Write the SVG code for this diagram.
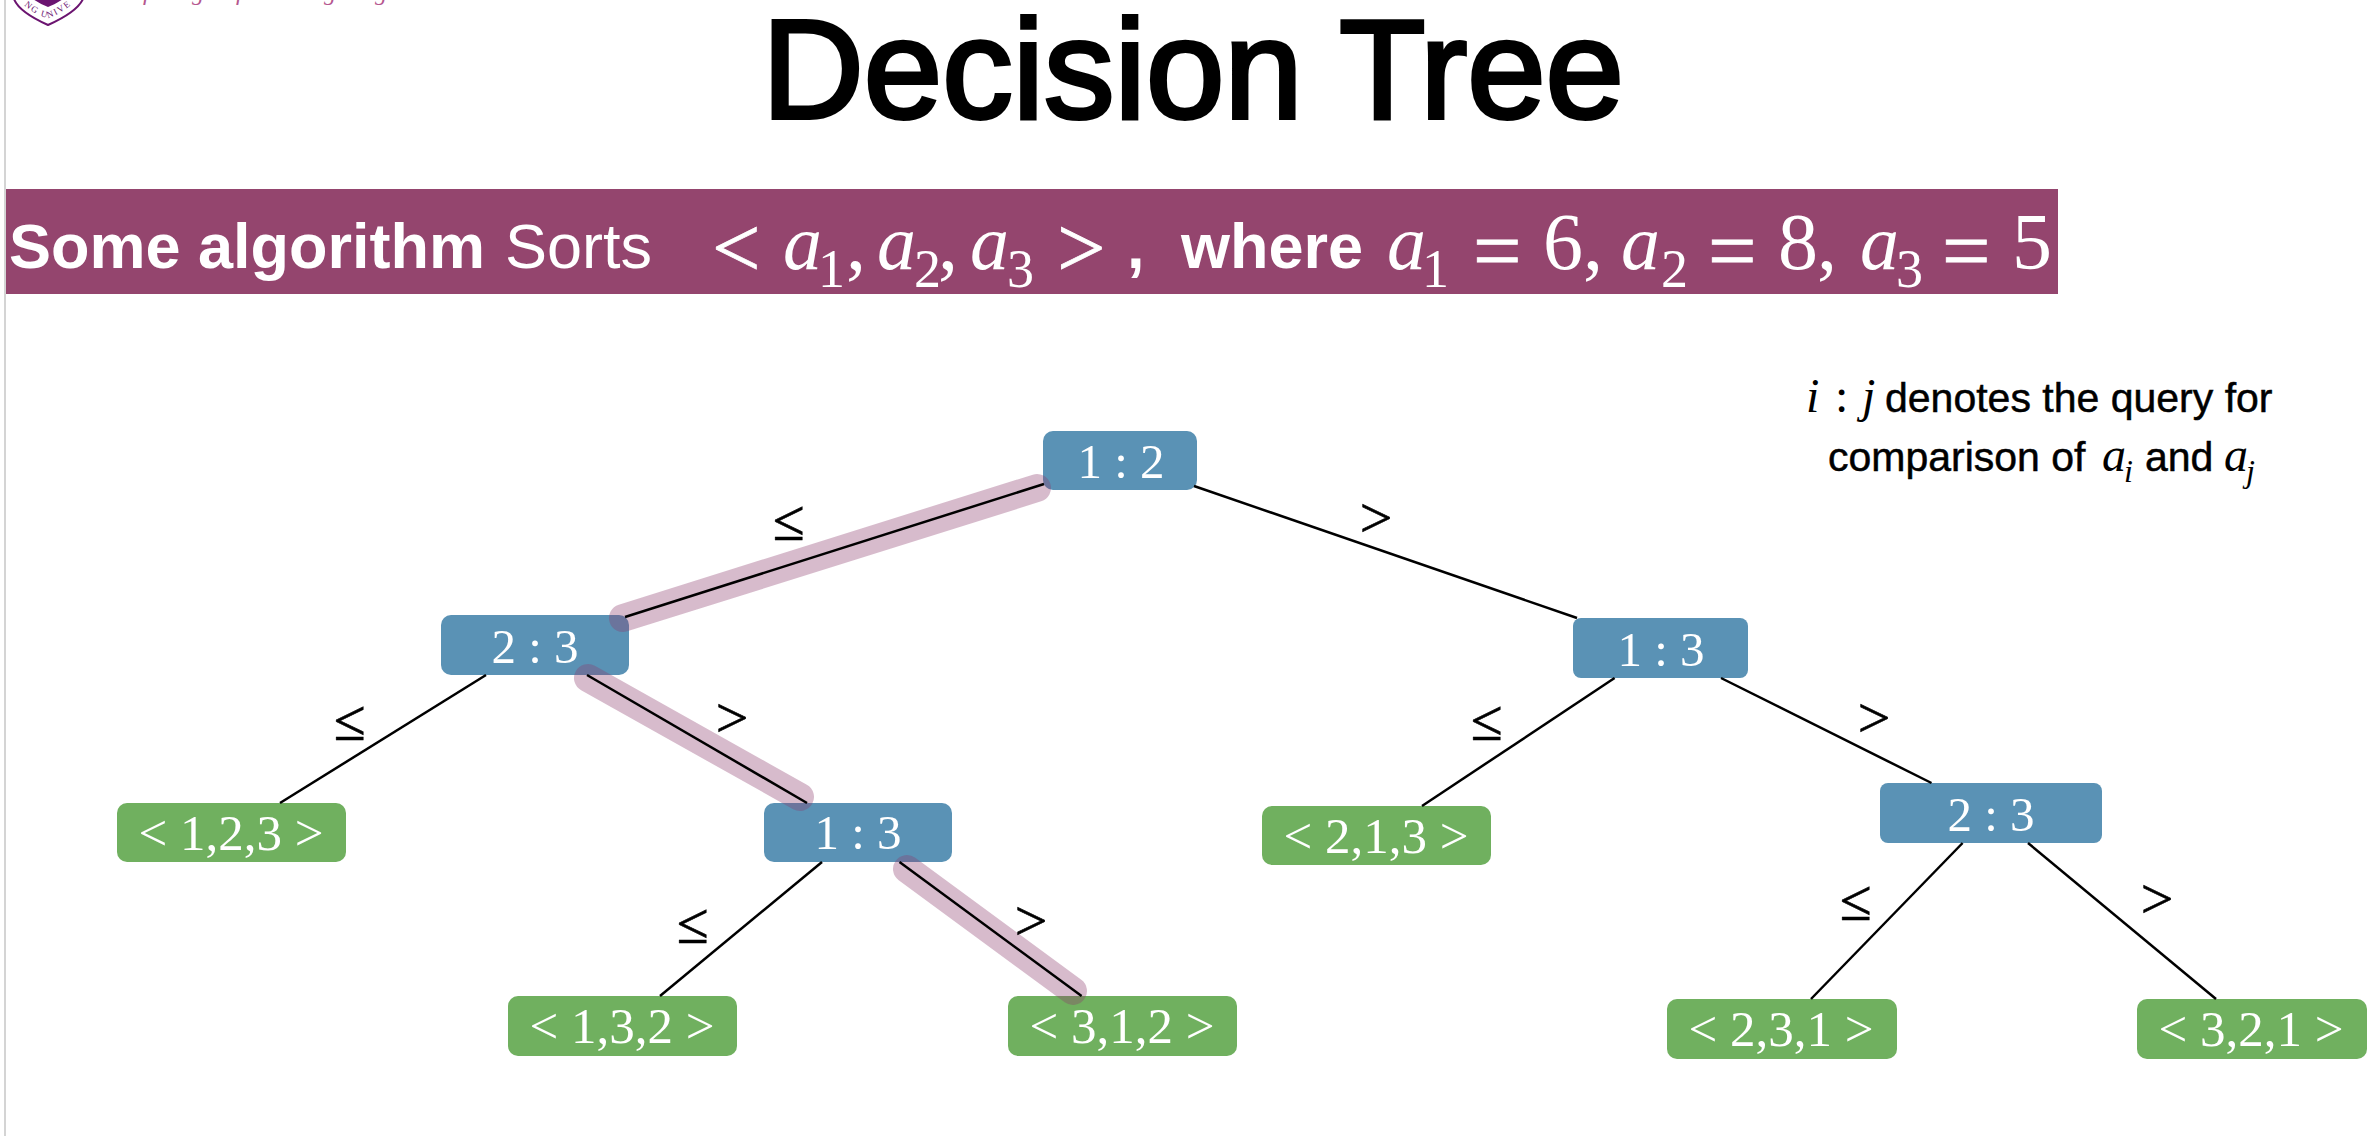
<svg xmlns="http://www.w3.org/2000/svg" width="2373" height="1136" viewBox="0 0 2373 1136">
<style>
.blue{fill:#5a92b5}
.green{fill:#70b05f}
.lab{font:49px "Liberation Serif",serif;fill:#fff;text-anchor:middle}
.leaf{font:51px "Liberation Serif",serif;fill:#fff;text-anchor:middle}
.edge{font:58px "Liberation Serif",serif;fill:#000;stroke:#000;stroke-width:.6;text-anchor:middle}
.ln{stroke:#000;stroke-width:2.500;fill:none}
.hl{stroke:#8c3c6e;stroke-opacity:.35;stroke-width:28;stroke-linecap:round;fill:none}
.sans{font-family:"Liberation Sans",Arial,sans-serif}
.m{font:italic 78px "Liberation Serif",serif;fill:#fff}
.mr{font:80px "Liberation Serif",serif;fill:#fff}
.op{font:86px "Liberation Serif",serif;fill:#fff;stroke:#fff;stroke-width:.8}
.ms{font:54px "Liberation Serif",serif;fill:#fff}
.b{font:bold 63px "Liberation Sans",Arial,sans-serif;fill:#fff}
.t{font:41px "Liberation Sans",Arial,sans-serif;fill:#000;stroke:#000;stroke-width:.5}
.lm{font:italic 48px "Liberation Serif",serif;fill:#000}
.lc{font:48px "Liberation Serif",serif;fill:#000}
.ls{font:italic 32px "Liberation Serif",serif;fill:#000}
</style>
<defs><path id="arc" d="M24 5Q36 16 48 18Q62 14 78 -1"/></defs>
<rect width="2373" height="1136" fill="#fff"/>
<rect x="4" y="0" width="2" height="1136" fill="#d4d4d4"/>
<g id="logo">
<path d="M14 -1Q19 12 48 25Q77 12 83 -1" fill="#fff" stroke="#6b1470" stroke-width="2"/>
<path d="M33 -1Q40 4 48 7Q56 4 63 -1Z" fill="#6b1470"/>
<text font-family="Liberation Serif,serif" font-size="9" fill="#6b1470" letter-spacing="1.500"><textPath href="#arc">NG UNIVE</textPath></text>
</g>
<g id="motto" font-family="Liberation Serif,serif" font-style="italic" font-size="24" fill="#b5578f">
<text x="143" y="0">f</text><text x="192" y="0">g</text><text x="236" y="0">f</text><text x="324" y="0">g</text><text x="375" y="0">g</text>
</g>
<text id="title" class="sans" x="762" y="118" font-size="141" fill="#000" stroke="#000" stroke-width="4">Decision Tree</text>
<g id="banner">
<rect x="6" y="189" width="2052" height="105" fill="#94456e"/>
<text class="b" x="9" y="268">Some algorithm</text>
<text class="sans" x="505" y="268" font-size="63" fill="#fff">Sorts</text>
<text class="op" x="712" y="277">&lt;</text>
<text class="m" x="783" y="269">a<tspan class="ms" dx="-4" dy="18">1</tspan></text><text class="mr" x="846" y="269">,</text>
<text class="m" x="877" y="269">a<tspan class="ms" dx="-2" dy="18">2</tspan></text><text class="mr" x="938" y="269">,</text>
<text class="m" x="970" y="269">a<tspan class="ms" dx="-2" dy="18">3</tspan></text>
<text class="op" x="1057" y="277">&gt;</text>
<text class="b" x="1127" y="268">,</text>
<text class="b" x="1181" y="268">where</text>
<text class="m" x="1387" y="269">a<tspan class="ms" dx="-4" dy="18">1</tspan></text>
<text class="op" x="1473" y="280">=</text><text class="mr" x="1543" y="269">6</text><text class="mr" x="1583" y="269">,</text>
<text class="m" x="1621" y="269">a<tspan class="ms" dx="1" dy="18">2</tspan></text>
<text class="op" x="1708" y="280">=</text><text class="mr" x="1778" y="269">8</text><text class="mr" x="1817" y="269">,</text>
<text class="m" x="1860" y="269">a<tspan class="ms" dx="-3" dy="18">3</tspan></text>
<text class="op" x="1942" y="280">=</text><text class="mr" x="2012" y="269">5</text>
</g>
<g id="legend">
<text class="lm" x="1806" y="412">i</text><text class="lc" x="1835" y="412">:</text><text class="lm" x="1862" y="412">j</text>
<text class="t" x="1885" y="412">denotes the query for</text>
<text class="t" x="1828" y="471">comparison of</text>
<text class="lm" x="2102" y="471">a<tspan class="ls" dx="-2" dy="11">i</tspan></text>
<text class="t" x="2145" y="471">and</text>
<text class="lm" x="2224" y="471">a<tspan class="ls" dx="-2" dy="11">j</tspan></text>
</g>
<g id="n-root"><rect class="blue" x="1043" y="431" width="154" height="59" rx="10"/><text class="lab" x="1121" y="478">1 : 2</text></g>
<g id="n-23l"><rect class="blue" x="441" y="615" width="188" height="60" rx="10"/><text class="lab" x="535" y="663">2 : 3</text></g>
<g id="n-13r"><rect class="blue" x="1573" y="618" width="175" height="60" rx="8"/><text class="lab" x="1661" y="666">1 : 3</text></g>
<g id="n-13m"><rect class="blue" x="764" y="803" width="188" height="59" rx="10"/><text class="lab" x="858" y="849">1 : 3</text></g>
<g id="n-23r"><rect class="blue" x="1880" y="783" width="222" height="60" rx="8"/><text class="lab" x="1991" y="831">2 : 3</text></g>
<g id="n-123"><rect class="green" x="117" y="803" width="229" height="59" rx="10"/><text class="leaf" x="231" y="850">&lt; 1,2,3 &gt;</text></g>
<g id="n-132"><rect class="green" x="508" y="996" width="229" height="60" rx="10"/><text class="leaf" x="622" y="1043">&lt; 1,3,2 &gt;</text></g>
<g id="n-312"><rect class="green" x="1008" y="996" width="229" height="60" rx="10"/><text class="leaf" x="1122" y="1043">&lt; 3,1,2 &gt;</text></g>
<g id="n-213"><rect class="green" x="1262" y="806" width="229" height="59" rx="10"/><text class="leaf" x="1376" y="853">&lt; 2,1,3 &gt;</text></g>
<g id="n-231"><rect class="green" x="1667" y="999" width="230" height="60" rx="10"/><text class="leaf" x="1781" y="1046">&lt; 2,3,1 &gt;</text></g>
<g id="n-321"><rect class="green" x="2137" y="999" width="230" height="60" rx="10"/><text class="leaf" x="2251" y="1046">&lt; 3,2,1 &gt;</text></g>
<g id="connectors">
<path class="hl" d="M1037 488L623 618"/>
<path class="hl" d="M588 678L800 797"/>
<path class="hl" d="M907 869L1073 991"/>
<path class="ln" d="M1044 484L625 617"/>
<path class="ln" d="M1194 486L1577 618"/>
<path class="ln" d="M486 675L280 803"/>
<path class="ln" d="M587 675L807 803"/>
<path class="ln" d="M822 862L660 996"/>
<path class="ln" d="M899.500 862L1081.600 996"/>
<path class="ln" d="M1614.600 678L1422 806"/>
<path class="ln" d="M1721 678L1931.500 783"/>
<path class="ln" d="M1962.600 843L1811 999"/>
<path class="ln" d="M2028 843L2216 999"/>
</g>
<g id="edge-labels">
<text class="edge" x="789" y="540">≤</text>
<text class="edge" x="350" y="740">≤</text>
<text class="edge" x="693" y="943">≤</text>
<text class="edge" x="1487" y="740">≤</text>
<text class="edge" x="1856" y="920">≤</text>
<text class="edge" x="1376" y="537">&gt;</text>
<text class="edge" x="732" y="737">&gt;</text>
<text class="edge" x="1031" y="940">&gt;</text>
<text class="edge" x="1874" y="737">&gt;</text>
<text class="edge" x="2157" y="918">&gt;</text>
</g>
</svg>
